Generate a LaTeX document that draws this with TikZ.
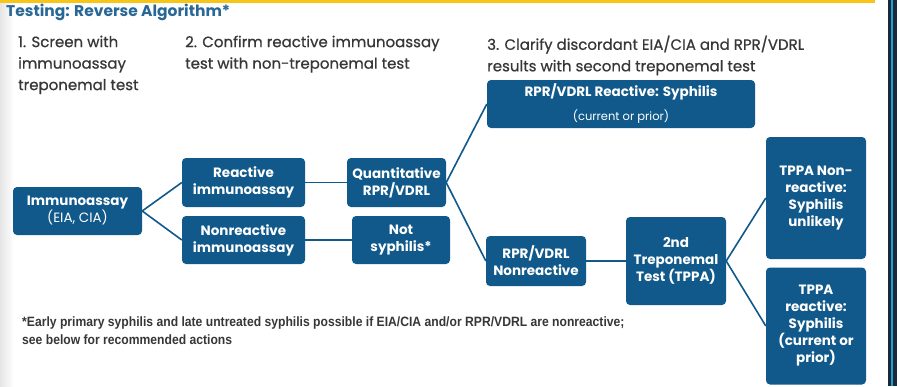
\documentclass[tikz,border=0pt]{standalone}
\usepackage{fontspec}
\setmainfont{Poppins}
\newfontfamily\stepfont[FakeBold=0.6]{Poppins}
\newfontfamily\notefont[FakeStretch=0.9]{Liberation Sans}
\usepackage{tikz}
\usetikzlibrary{positioning}
\definecolor{boxblue}{RGB}{16,89,138}
\definecolor{titleblue}{RGB}{40,103,150}
\definecolor{bargold}{RGB}{246,197,24}
\definecolor{steptext}{RGB}{55,55,55}
\definecolor{edgedark}{RGB}{28,40,56}
\definecolor{edgecyan}{RGB}{30,160,210}

\tikzset{
  stepbox/.style={rounded corners=4pt, fill=boxblue, text=white, align=center,
    inner sep=0pt, font=\fontsize{13.5}{17}\selectfont\bfseries},
  steplabel/.style={anchor=north west, align=left, text=steptext, inner sep=0pt,
    font=\stepfont\fontsize{15}{21.5}\selectfont},
  link/.style={boxblue, line width=1.6pt}
}

\begin{document}
\begin{tikzpicture}[x=1pt,y=-1pt]
    %% page frame
    \useasboundingbox (0,0) rectangle (897,386);
    \fill[white] (0,0) rectangle (897,386);
    \shade[left color=black!10, right color=white] (0,0) rectangle (14,386);
    \fill[bargold] (0,0) rectangle (875,2.5);
    \fill[edgedark] (888,0) rectangle (897,386);
    \fill[edgecyan] (891,0) rectangle (893,386);

    %% headings
    \node[anchor=west, inner sep=0pt, text=titleblue, font=\fontsize{15.5}{17}\selectfont\bfseries] (title) at (6,12) {Testing: Reverse Algorithm*};
    \node[steplabel] (stepA) at (18,35.5) {1. Screen with\\immunoassay\\treponemal test};
    \node[steplabel] (stepB) at (185,35.5) {2. Confirm reactive immunoassay\\test with non-treponemal test};
    \node[steplabel] (stepC) at (487,35.5) {3. Clarify discordant EIA/CIA and RPR/VDRL\\results with second treponemal test};

    %% boxes
    \node[stepbox, minimum width=129pt, minimum height=48pt] (immuno) at (77.5,211) {Immunoassay\\{\mdseries (EIA, CIA)}};
    \node[stepbox, minimum width=123pt, minimum height=49pt] (react) at (243.5,182.5) {Reactive\\immunoassay};
    \node[stepbox, minimum width=123pt, minimum height=48pt] (nonreact) at (243.5,240) {Nonreactive\\immunoassay};
    \node[stepbox, minimum width=99pt, minimum height=49pt] (quant) at (396.5,182.5) {Quantitative\\RPR/VDRL};
    \node[stepbox, minimum width=98pt, minimum height=48pt] (notsyph) at (401,240) {Not\\syphilis*};
    \node[stepbox, minimum width=268pt, minimum height=48pt] (rprreact) at (621,104) {RPR/VDRL Reactive: Syphilis\\[7pt]{\mdseries\fontsize{11.5}{12}\selectfont (current or prior)}};
    \node[stepbox, minimum width=100pt, minimum height=50pt] (rprnon) at (536,261) {RPR/VDRL\\Nonreactive};
    \node[stepbox, minimum width=100pt, minimum height=88pt] (second) at (676,261) {2nd\\Treponemal\\Test (TPPA)};
    \node[stepbox, minimum width=100pt, minimum height=122pt] (tppanon) at (816,198) {TPPA Non-\\reactive:\\Syphilis\\unlikely};
    \node[stepbox, minimum width=100pt, minimum height=117pt] (tppareact) at (816,326) {TPPA\\reactive:\\Syphilis\\(current or\\prior)};

    %% connectors
    \draw[link] (immuno.east) -- (react.west);
    \draw[link] (immuno.east) -- (nonreact.west);
    \draw[link] (react.east) -- (quant.west);
    \draw[link] (nonreact.east) -- (notsyph.west);
    \draw[link] (quant.east) -- (rprreact.west);
    \draw[link] (quant.east) -- (rprnon.west);
    \draw[link] (rprnon.east) -- (second.west);
    \draw[link] (second.east) -- (tppanon.west);
    \draw[link] (second.east) -- (tppareact.west);

    %% footnote
    \node[anchor=north west, align=left, inner sep=0pt, text=steptext, font=\notefont\bfseries\fontsize{13.5}{18}\selectfont] (note) at (22,317) {*Early primary syphilis and late untreated syphilis possible if EIA/CIA and/or RPR/VDRL are nonreactive;\\see below for recommended actions};
\end{tikzpicture}
\end{document}
